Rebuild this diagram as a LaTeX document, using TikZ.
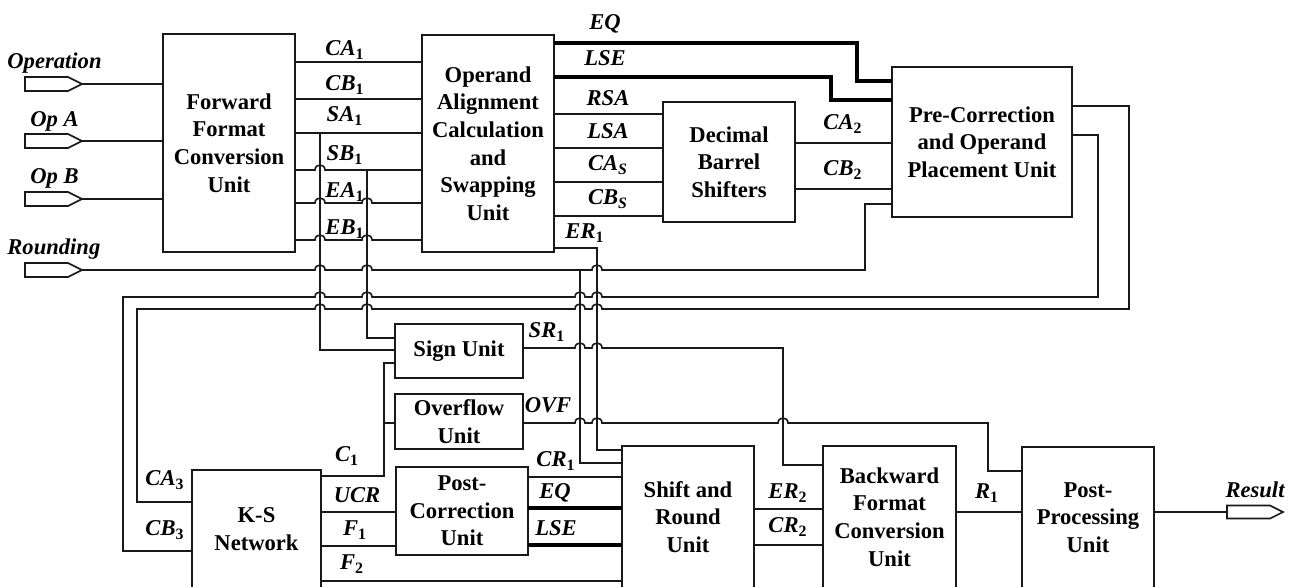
\documentclass[tikz,border=0pt]{standalone}
\usepackage{fontspec}
\setmainfont{Liberation Serif}
\usetikzlibrary{fit}
\tikzset{
  unit/.style={draw=black!90, line width=0.8pt, inner sep=0pt, outer sep=0pt},
  utext/.style={align=center, inner sep=0pt, font=\fontsize{11.3}{13.8}\selectfont\bfseries},
  wire/.style={draw=black!90, line width=0.8pt},
  bus/.style={draw=black, line width=1.9pt},
  sig/.style={font=\fontsize{11.3}{13.8}\selectfont\bfseries\itshape, inner sep=0pt},
  port/.style={draw=black!90, line width=0.8pt, fill=white},
}
\newcommand\Sg[2]{#1\textsubscript{\upshape #2}}
\newcommand\jp[2]{-- ({#1-5},#2) .. controls ({#1-5},{#2-6.7}) and ({#1+5},{#2-6.7}) .. ({#1+5},#2)}
\begin{document}
\begin{tikzpicture}[x=0.5pt,y=-0.5pt]
\useasboundingbox (0,0) rectangle (1300,586);
\fill[white] (0,0) rectangle (1300,586);
\clip (0,0) rectangle (1300,586);

% ---------- units ----------
\node[unit, fit={(163,34) (295,252)}] (fwd) {};
\node[utext] (tfwd) at (fwd.center) {Forward\\Format\\Conversion\\Unit};
\node[unit, fit={(422,35) (554,252)}] (oa) {};
\node[utext] (toa) at (oa.center) {Operand\\Alignment\\Calculation\\and\\Swapping\\Unit};
\node[unit, fit={(663,102) (795,222)}] (dbs) {};
\node[utext] (tdbs) at (dbs.center) {Decimal\\Barrel\\Shifters};
\node[unit, fit={(892,67) (1072,217)}] (pre) {};
\node[utext] (tpre) at (pre.center) {Pre-Correction\\and Operand\\Placement Unit};
\node[unit, fit={(395,324) (523,378)}] (sign) {};
\node[utext] (tsign) at (sign.center) {Sign Unit};
\node[unit, fit={(395,394) (523,449)}] (ovf) {};
\node[utext] (tovf) at (ovf.center) {Overflow\\Unit};
\node[unit, fit={(396,467) (528,555)}] (pc) {};
\node[utext] (tpc) at (pc.center) {Post-\\Correction\\Unit};
\node[unit, fit={(192,470) (321,588)}] (ks) {};
\node[utext] (tks) at (ks.center) {K-S\\Network};
\node[unit, fit={(622,446) (754,588)}] (sr) {};
\node[utext] (tsr) at (sr.center) {Shift and\\Round\\Unit};
\node[unit, fit={(823,446) (956,588)}] (bw) {};
\node[utext] (tbw) at (bw.center) {Backward\\Format\\Conversion\\Unit};
\node[unit, fit={(1022,447) (1154,588)}] (pp) {};
\node[utext] (tpp) at (pp.center) {Post-\\Processing\\Unit};

% ---------- ports ----------
\coordinate (pOp) at (82,84);
\coordinate (pA) at (82,141);
\coordinate (pB) at (82,199);
\coordinate (pRnd) at (82,270);
\coordinate (pRes) at (1227,512);
\foreach \yy in {84,141,199,270}
  \draw[port] (25,\yy-7) -- (68,\yy-7) -- (82,\yy) -- (68,\yy+7) -- (25,\yy+7) -- cycle;
\draw[port] (1227,505.5) -- (1270,505.5) -- (1283,512) -- (1270,518.5) -- (1227,518.5) -- cycle;

% ---------- inputs to forward unit ----------
\draw[wire] (pOp) -- (fwd.west|-pOp);
\draw[wire] (pA) -- (fwd.west|-pA);
\draw[wire] (pB) -- (fwd.west|-pB);

% ---------- forward -> operand alignment ----------
\draw[wire] (fwd.east|-0,62) -- (oa.west|-0,62);
\draw[wire] (fwd.east|-0,99) -- (oa.west|-0,99);
\draw[wire] (fwd.east|-0,133) -- (oa.west|-0,133);
\draw[wire] (fwd.east|-0,170) \jp{320}{170} -- (oa.west|-0,170);
\draw[wire] (fwd.east|-0,203) \jp{320}{203} \jp{367}{203} -- (oa.west|-0,203);
\draw[wire] (fwd.east|-0,240) \jp{320}{240} \jp{367}{240} -- (oa.west|-0,240);
% SA1, SB1 to sign unit
\draw[wire] (320,133) -- (320,350) -- (sign.west|-0,350);
\draw[wire] (367,170) -- (367,338) -- (sign.west|-0,338);

% ---------- rounding ----------
\draw[wire] (pRnd) \jp{320}{270} \jp{367}{270} \jp{597}{270} -- (865,270) -- (865,204) -- (pre.west|-0,204);
\draw[wire] (580,270) -- (580,463) -- (sr.west|-0,463);

% ---------- operand alignment outputs ----------
\draw[bus] (oa.east|-0,43) -- (857,43) -- (857,81) -- (pre.west|-0,81);
\draw[bus] (oa.east|-0,77) -- (831,77) -- (831,100) -- (pre.west|-0,100);
\draw[wire] (oa.east|-0,114) -- (dbs.west|-0,114);
\draw[wire] (oa.east|-0,148) -- (dbs.west|-0,148);
\draw[wire] (oa.east|-0,182) -- (dbs.west|-0,182);
\draw[wire] (oa.east|-0,216) -- (dbs.west|-0,216);
\draw[wire] (oa.east|-0,248) -- (597,248) -- (597,450) -- (sr.west|-0,450);

% ---------- barrel shifters -> pre-correction ----------
\draw[wire] (dbs.east|-0,143) -- (pre.west|-0,143);
\draw[wire] (dbs.east|-0,189) -- (pre.west|-0,189);

% ---------- pre-correction -> K-S network ----------
\draw[wire] (ks.west|-0,502) -- (137,502) -- (137,309) \jp{320}{309} \jp{367}{309} \jp{580}{309} \jp{597}{309} -- (1129,309) -- (1129,106) -- (pre.east|-0,106);
\draw[wire] (ks.west|-0,551) -- (123,551) -- (123,297) \jp{320}{297} \jp{367}{297} \jp{580}{297} \jp{597}{297} -- (1098,297) -- (1098,135) -- (pre.east|-0,135);

% ---------- K-S network outputs ----------
\draw[wire] (ks.east|-0,476) -- (384,476) -- (384,363) -- (sign.west|-0,363);
\draw[wire] (384,423) -- (ovf.west|-0,423);
\draw[wire] (ks.east|-0,512) -- (pc.west|-0,512);
\draw[wire] (ks.east|-0,546) -- (pc.west|-0,546);
\draw[wire] (ks.east|-0,581) -- (sr.west|-0,581);

% ---------- post-correction -> shift and round ----------
\draw[wire] (pc.east|-0,477) -- (sr.west|-0,477);
\draw[bus] (pc.east|-0,508) -- (sr.west|-0,508);
\draw[bus] (pc.east|-0,545) -- (sr.west|-0,545);

% ---------- sign / overflow ----------
\draw[wire] (sign.east|-0,348) \jp{580}{348} \jp{597}{348} -- (783,348) -- (783,465) -- (bw.west|-0,465);
\draw[wire] (ovf.east|-0,423) \jp{580}{423} \jp{597}{423} \jp{783}{423} -- (988,423) -- (988,471) -- (pp.west|-0,471);

% ---------- back end ----------
\draw[wire] (sr.east|-0,509) -- (bw.west|-0,509);
\draw[wire] (sr.east|-0,545) -- (bw.west|-0,545);
\draw[wire] (bw.east|-0,512) -- (pp.west|-0,512);
\draw[wire] (pp.east|-0,512) -- (pRes);

% ---------- labels ----------
\node[sig, anchor=west] (lOp) at (7,63) {Operation};
\node[sig, anchor=west] (lA) at (30,121) {Op A};
\node[sig, anchor=west] (lB) at (30,178) {Op B};
\node[sig, anchor=west] (lR) at (7,249) {Rounding};
\node[sig] (lca1) at (345,50) {\Sg{CA}{1}};
\node[sig] (lcb1) at (345,85) {\Sg{CB}{1}};
\node[sig] (lsa1) at (345,116) {\Sg{SA}{1}};
\node[sig] (lsb1) at (345,155) {\Sg{SB}{1}};
\node[sig] (lea1) at (345,192) {\Sg{EA}{1}};
\node[sig] (leb1) at (345,229) {\Sg{EB}{1}};
\node[sig] (leq) at (605,24) {EQ};
\node[sig] (llse) at (605,58) {LSE};
\node[sig] (lrsa) at (608,98) {RSA};
\node[sig] (llsa) at (608,131) {LSA};
\node[sig] (lcas) at (608,165) {\Sg{CA}{\itshape S}};
\node[sig] (lcbs) at (608,199) {\Sg{CB}{\itshape S}};
\node[sig] (ler1) at (585,233) {\Sg{ER}{1}};
\node[sig] (lca2) at (843,124) {\Sg{CA}{2}};
\node[sig] (lcb2) at (843,170) {\Sg{CB}{2}};
\node[sig] (lca3) at (165,480) {\Sg{CA}{3}};
\node[sig] (lcb3) at (165,530) {\Sg{CB}{3}};
\node[sig] (lc1) at (347,456) {\Sg{C}{1}};
\node[sig] (lucr) at (357,495) {UCR};
\node[sig] (lf1) at (355,530) {\Sg{F}{1}};
\node[sig] (lf2) at (352,564) {\Sg{F}{2}};
\node[sig] (lsr1) at (547,332) {\Sg{SR}{1}};
\node[sig] (lovf) at (548,405) {OVF};
\node[sig] (lcr1) at (556,461) {\Sg{CR}{1}};
\node[sig] (leq2) at (555,493) {EQ};
\node[sig] (llse2) at (556,528) {LSE};
\node[sig] (ler2) at (788,493) {\Sg{ER}{2}};
\node[sig] (lcr2) at (788,527) {\Sg{CR}{2}};
\node[sig] (lr1) at (987,493) {\Sg{R}{1}};
\node[sig] (lres) at (1255,490) {Result};
\end{tikzpicture}
\end{document}
